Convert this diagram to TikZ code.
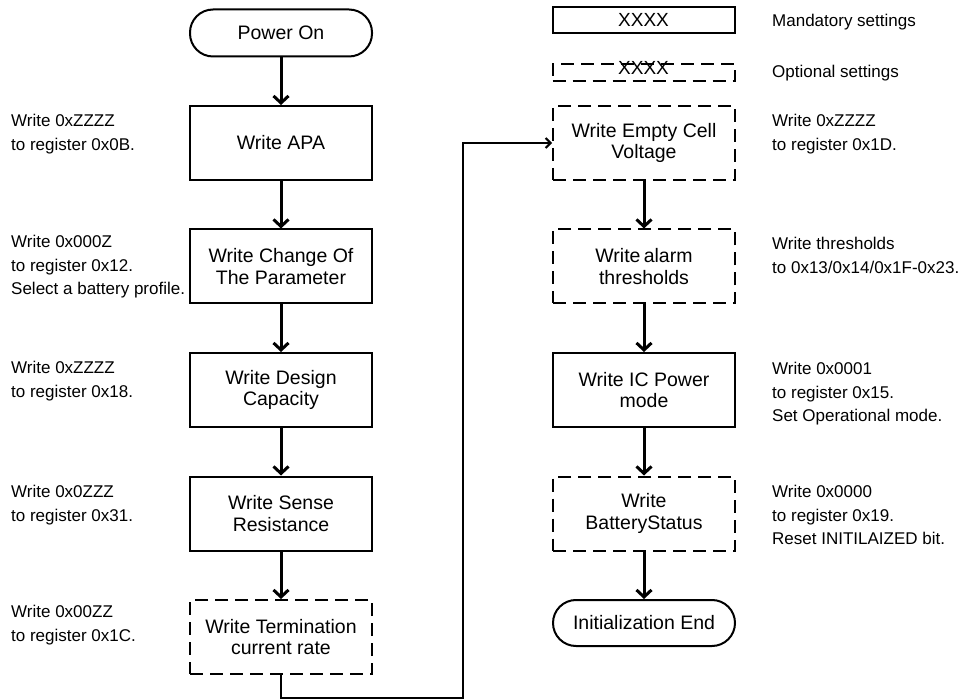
\documentclass[tikz,border=0pt]{standalone}
\usepackage{fontspec}
\setmainfont{Liberation Sans}
\usetikzlibrary{positioning, arrows.meta}

\begin{document}
\begin{tikzpicture}[x=1pt, y=-1pt,
  stepbox/.style={draw, line width=2pt, align=center, inner sep=0pt,
                  minimum width=182pt, minimum height=74pt,
                  font=\fontsize{19.5}{21.5}\selectfont},
  optbox/.style={stepbox, dash pattern=on 13pt off 7pt},
  terminal/.style={stepbox, rounded corners=23pt, minimum height=47pt},
  keybox/.style={draw, line width=2pt, inner sep=0pt, minimum width=182pt,
                 font=\fontsize{19}{19}\selectfont},
  note/.style={anchor=north west, align=left, inner sep=0pt,
               font=\fontsize{17}{23.5}\selectfont},
  legendtxt/.style={anchor=base west, inner sep=0pt, font=\fontsize{17}{20}\selectfont},
  flow/.style={line width=3pt, -{Straight Barb[length=7pt,width=15pt]}},
  link/.style={line width=2pt, -{Straight Barb[length=5pt,width=10pt]}}]
  \useasboundingbox (0,0) rectangle (964,700);

  % left column
  \node[terminal] (power) at (281,33) {Power On};
  \node[stepbox, below=47.5pt of power] (apa) {Write APA};
  \node[stepbox, below=47.5pt of apa] (change) {Write Change Of\\The Parameter};
  \node[stepbox, below=47.5pt of change] (design) {Write Design\\Capacity};
  \node[stepbox, below=47.5pt of design] (sense) {Write Sense\\Resistance};
  \node[optbox, below=47.5pt of sense] (termrate) {Write Termination\\current rate};

  % right column
  \node[optbox, right=179pt of apa] (empty) {Write Empty Cell\\Voltage};
  \node[optbox, below=47.5pt of empty] (alarm) {Write\,alarm\\thresholds};
  \node[stepbox, below=47.5pt of alarm] (icpower) {Write IC Power\\mode};
  \node[optbox, below=47.5pt of icpower] (battery) {Write\\BatteryStatus};
  \node[terminal, below=47.5pt of battery, minimum height=46pt] (initend) {Initialization End};

  % legend
  \node[keybox, minimum height=26pt, text height=13.5pt, text depth=0pt] (mand) at (643.5,20) {XXXX};
  \node[keybox, dash pattern=on 13pt off 7pt, minimum height=17pt,
        text height=5pt, text depth=0pt] (opt) at (643.5,72.5) {XXXX};
  \node[legendtxt] (mandtxt) at (772,27) {Mandatory settings};
  \node[legendtxt] (opttxt) at (772,78) {Optional settings};

  % register notes
  \node[note] (napa) at (11,114) {Write 0xZZZZ\\to register 0x0B.};
  \node[note] (nchange) at (11,235) {Write 0x000Z\\to register 0x12.\\Select a battery profile.};
  \node[note] (ndesign) at (11,361) {Write 0xZZZZ\\to register 0x18.};
  \node[note] (nsense) at (11,485) {Write 0x0ZZZ\\to register 0x31.};
  \node[note] (nterm) at (11,605) {Write 0x00ZZ\\to register 0x1C.};
  \node[note] (nempty) at (772,114) {Write 0xZZZZ\\to register 0x1D.};
  \node[note] (nalarm) at (772,237) {Write thresholds\\to 0x13/0x14/0x1F-0x23.};
  \node[note] (nic) at (772,362) {Write 0x0001\\to register 0x15.\\Set Operational mode.};
  \node[note] (nbatt) at (772,485) {Write 0x0000\\to register 0x19.\\Reset INITILAIZED bit.};

  % flow
  \draw[flow] (power) -- (apa);
  \draw[flow] (apa) -- (change);
  \draw[flow] (change) -- (design);
  \draw[flow] (design) -- (sense);
  \draw[flow] (sense) -- (termrate);
  \coordinate (jog) at (463,698);
  \draw[link] (termrate.south) |- (jog) |- (empty.west);
  \draw[flow] (empty) -- (alarm);
  \draw[flow] (alarm) -- (icpower);
  \draw[flow] (icpower) -- (battery);
  \draw[flow] (battery) -- (initend);
\end{tikzpicture}
\end{document}
